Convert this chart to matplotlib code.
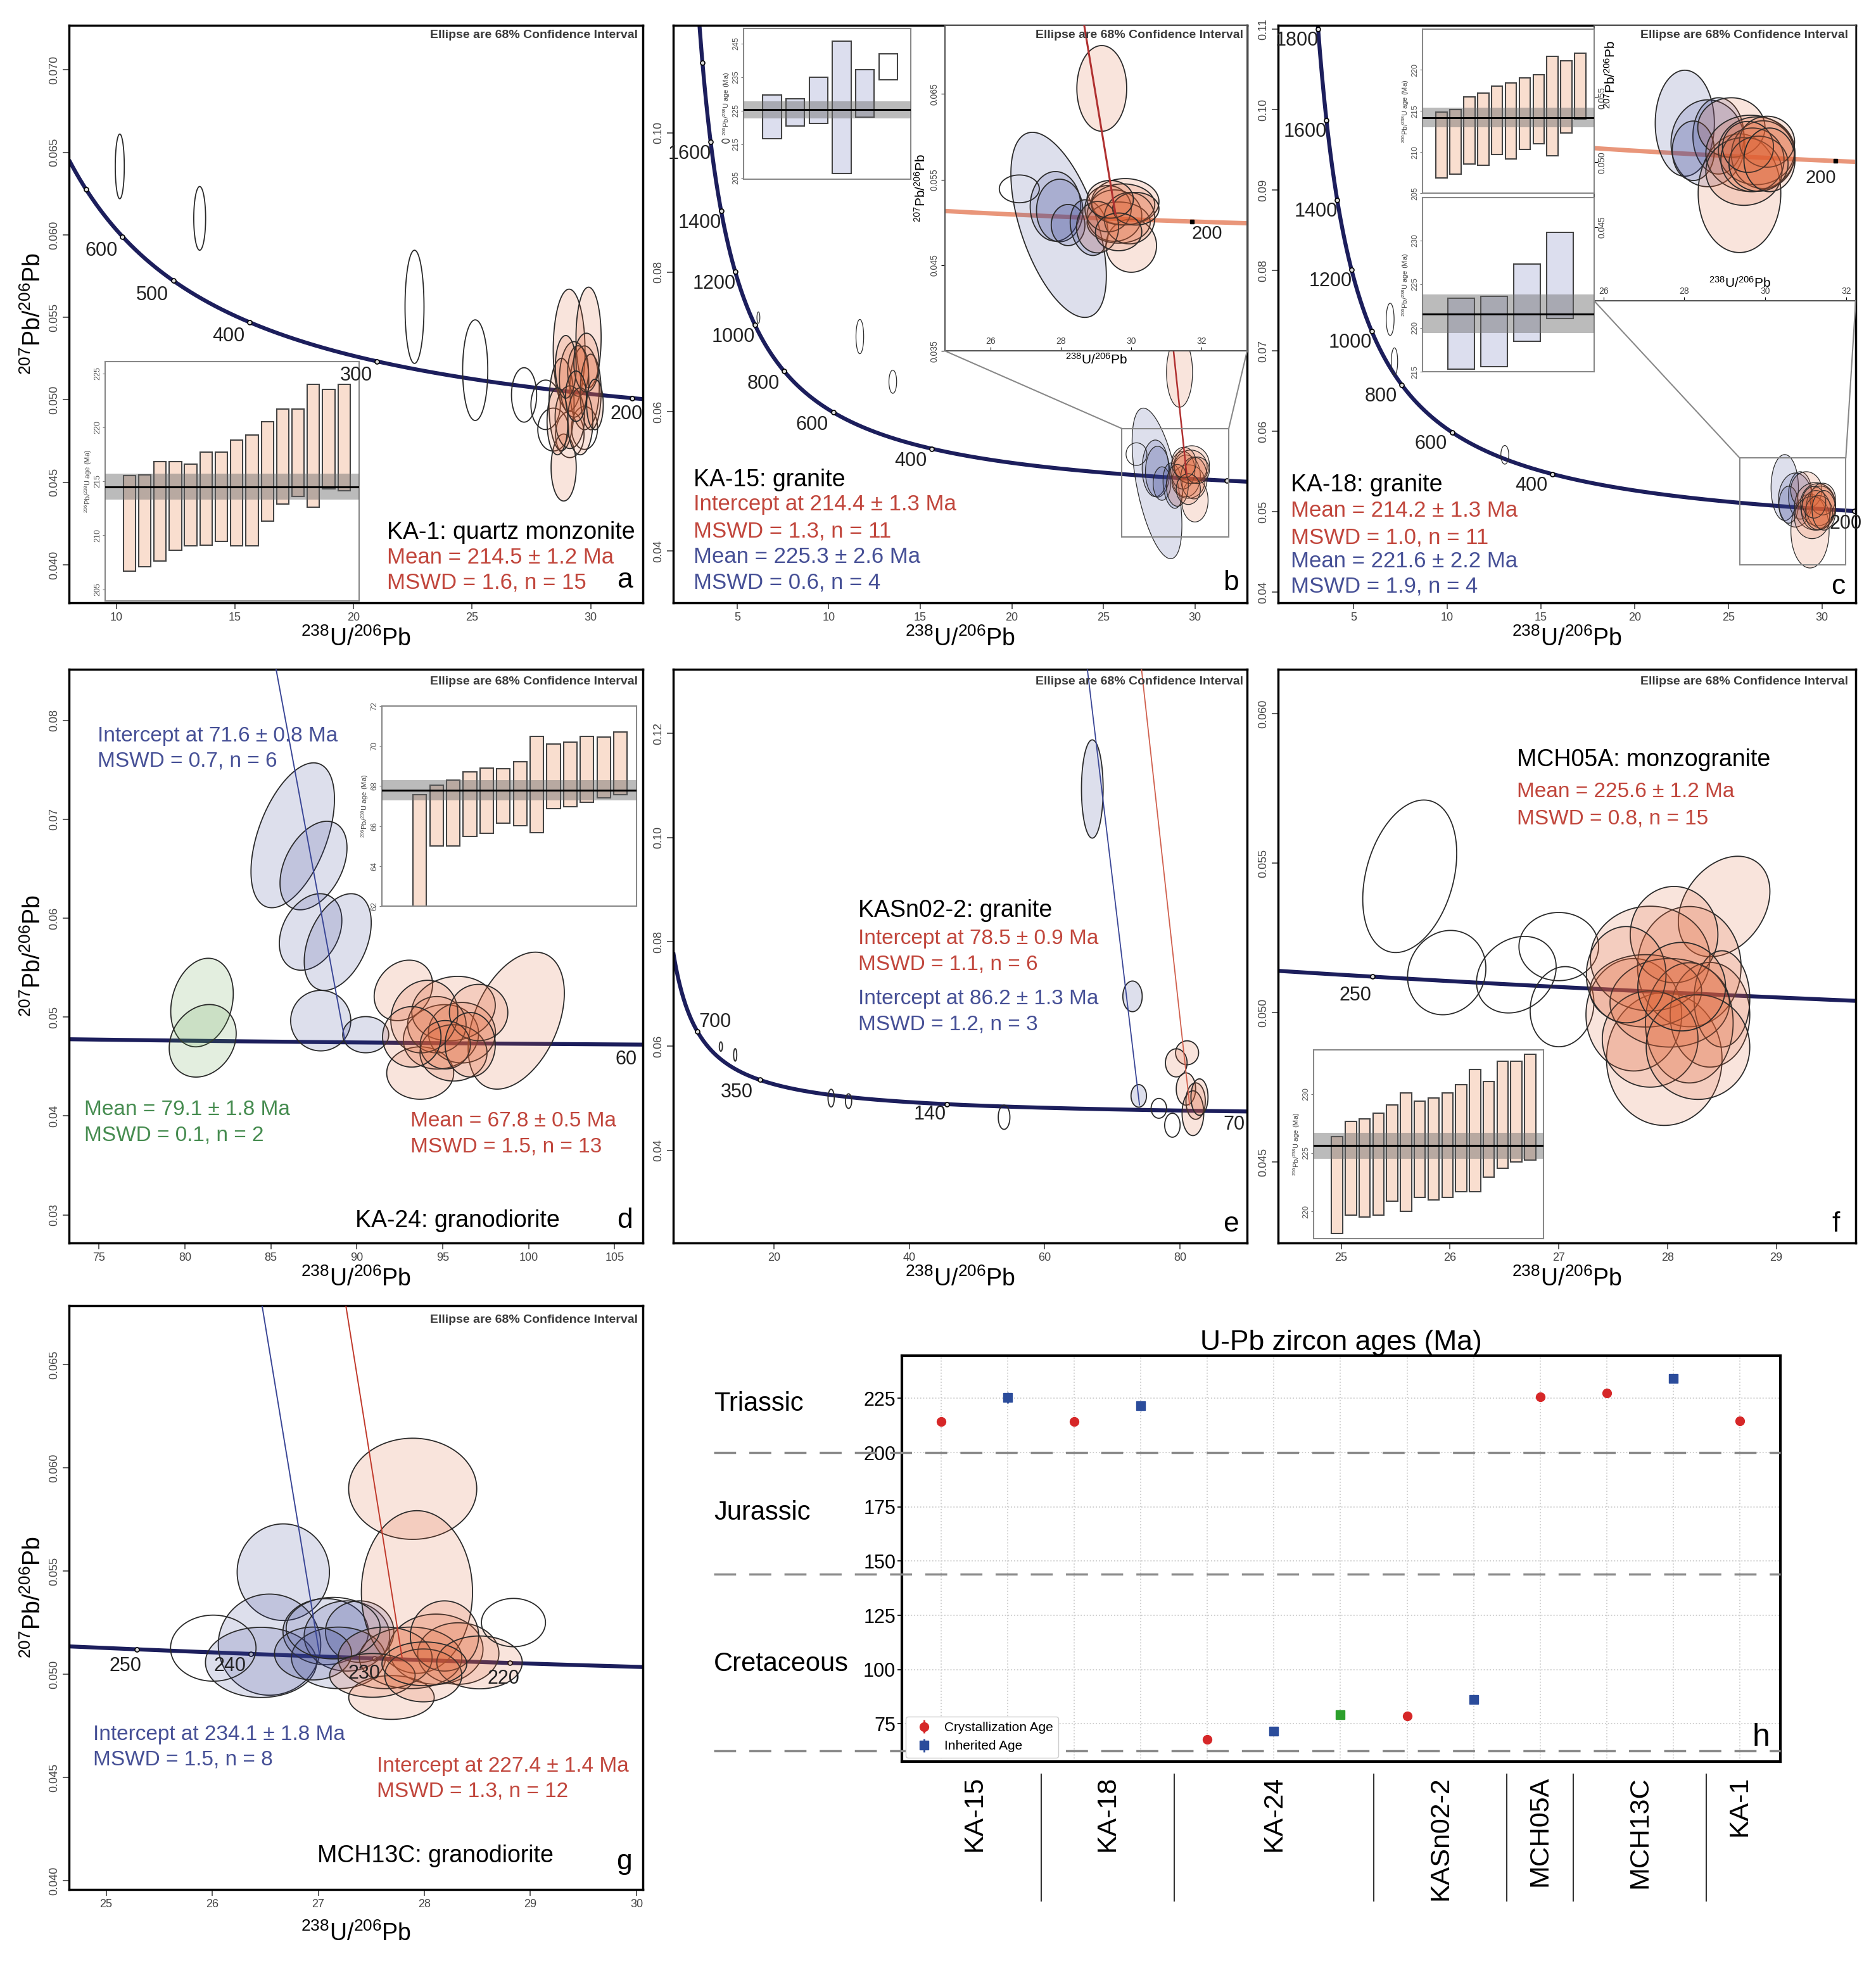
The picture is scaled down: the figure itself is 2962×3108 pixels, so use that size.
import numpy as np
import matplotlib
matplotlib.use("Agg")
import matplotlib.pyplot as plt
import matplotlib.transforms as mtransforms
from matplotlib.patches import Polygon, Rectangle, ConnectionPatch

plt.rcParams['font.family'] = ['Liberation Sans', 'DejaVu Sans']
plt.rcParams['mathtext.fontset'] = 'custom'
plt.rcParams['mathtext.rm'] = 'Liberation Sans'
plt.rcParams['mathtext.it'] = 'Liberation Sans:italic'
plt.rcParams['mathtext.bf'] = 'Liberation Sans:bold'
NARROW = ['Liberation Sans Narrow', 'Liberation Sans', 'DejaVu Sans']

W, H = 2962, 3108

# decay constants (1/yr) for the Tera-Wasserburg concordia
L238 = 1.55125e-10
L235 = 9.8485e-10
U85 = 137.88

# ---------------- data ----------------
# a: KA-1
a_x = [10.14, 13.51, 22.57, 25.13, 27.19, 28.1, 28.42, 29.12, 29.74,
       29.09, 29.91, 29.74, 28.86, 28.77, 29.3, 29.47, 29.12, 30.0, 29.56, 28.95, 29.82, 28.6, 29.38, 30.18]
a_y = [0.06415, 0.0610, 0.05564, 0.0518, 0.0503, 0.0497, 0.0482, 0.0479, 0.0483,
       0.05302, 0.05378, 0.05073, 0.0459, 0.04972, 0.05124, 0.05175, 0.04895, 0.05048, 0.0487, 0.052, 0.05226, 0.0487, 0.05022, 0.04972]
a_sx = [0.19, 0.25, 0.40, 0.53, 0.53, 0.62, 0.65, 0.6, 0.55,
        0.67, 0.53, 0.62, 0.53, 0.53, 0.62, 0.44, 0.62, 0.44, 0.53, 0.44, 0.53, 0.44, 0.44, 0.35]
a_sy = [0.00196, 0.00193, 0.00343, 0.00305, 0.00165, 0.0015, 0.0013, 0.0014, 0.0013,
        0.00369, 0.00305, 0.00254, 0.00203, 0.0028, 0.00229, 0.00153, 0.0019, 0.00229, 0.00203, 0.0019, 0.00178, 0.00203, 0.00153, 0.00153]
a_rho = [0] * 24
a_grp = 'ooooooooo' + 'rrrrrrrrrrrrrrr'
a_hist_top = [215.5, 215.6, 216.8, 216.8, 216.6, 217.7, 217.7, 218.8, 219.3, 220.5, 221.7, 221.7, 224.0, 223.5, 224.0]
a_hist_bot = [206.7, 207.1, 207.6, 208.6, 209.0, 209.1, 209.4, 209.0, 209.0, 211.3, 212.9, 213.6, 212.6, 214.3, 214.1]
a_mean, a_band = 214.5, 1.2
a_marked = [700, 600, 500, 400, 300, 200]
a_labelled = [600, 500, 400, 300, 200]

# b: KA-15
b_x = [27.93, 27.84, 27.96, 28.2, 28.8,
       29.16, 30.0, 29.83, 29.52, 29.64, 29.34, 29.77, 29.95, 29.04, 30.13, 29.4, 29.64,
       26.81, 11.70, 13.5, 4.37, 6.16]
b_y = [0.04972, 0.05188, 0.0514, 0.0497, 0.0494,
       0.06564, 0.04729, 0.05242, 0.0508, 0.04999, 0.05161, 0.0521, 0.0505, 0.04945, 0.0516, 0.0527, 0.0489,
       0.05392, 0.07077, 0.0643, 0.0988, 0.0735]
b_sx = [1.36, 0.72, 0.66, 0.48, 0.54,
        0.71, 0.72, 0.96, 0.78, 0.9, 0.66, 0.9, 0.72, 0.6, 0.66, 0.66, 0.66,
        0.57, 0.21, 0.21, 0.2, 0.08]
b_sy = [0.0108, 0.00406, 0.00365, 0.0024, 0.00325,
        0.0050, 0.0031, 0.0027, 0.003, 0.0024, 0.0027, 0.0024, 0.003, 0.003, 0.0019, 0.0022, 0.0022,
        0.00162, 0.00246, 0.00166, 0.0003, 0.0008]
b_rho = [-0.55, 0, 0, 0, -0.2] + [0] * 12 + [0] * 5
b_grp = 'bbbbb' + 'rrrrrrrrrrrr' + 'ooooo'
b_red_line_x = [29.55, 28.0]
b_red_line_y = [0.0510, 0.0893]
b_hist_top = [229.7, 228.6, 235.0, 245.75, 237.2, 242.0]
b_hist_bot = [216.7, 220.4, 221.25, 206.25, 223.1, 234.2]
b_hist_open = [False, False, False, False, False, True]
b_mean, b_band = 225.3, 2.6
b_marked = [1800, 1600, 1400, 1200, 1000, 800, 600, 400, 200]
b_labelled = [1600, 1400, 1200, 1000, 800, 600, 400]

# c: KA-18
c_x = [28.01, 28.58, 28.84, 28.22,
       29.36, 29.16, 29.63, 29.78, 29.94, 29.47, 30.04, 29.68, 29.83, 29.57, 30.1,
       6.95, 7.18, 13.07]
c_y = [0.05303, 0.05148, 0.05205, 0.0509,
       0.04762, 0.0527, 0.0507, 0.0509, 0.0506, 0.0493, 0.0516, 0.0502, 0.0499, 0.0512, 0.0502,
       0.07395, 0.0687, 0.0571]
c_sx = [0.73, 0.91, 0.63, 0.52,
        1.02, 0.83, 1.1, 0.94, 0.78, 0.94, 0.68, 0.78, 0.73, 0.63, 0.63,
        0.21, 0.17, 0.21]
c_sy = [0.0041, 0.00336, 0.00295, 0.0023,
        0.00459, 0.0023, 0.00295, 0.00262, 0.00262, 0.00262, 0.00197, 0.00246, 0.00213, 0.00197, 0.00246,
        0.002, 0.0017, 0.00116]
c_rho = [0] * 18
c_grp = 'bbbb' + 'rrrrrrrrrrr' + 'ooo'
c_hist1_top = [214.9, 215.2, 216.7, 217.2, 218.0, 218.4, 219.0, 219.4, 221.6, 221.1, 222.0]
c_hist1_bot = [206.9, 207.3, 208.6, 208.4, 209.7, 209.2, 210.3, 211.0, 209.6, 212.3, 214.0]
c_mean1, c_band1 = 214.2, 1.2
c_hist2_top = [223.4, 223.6, 227.3, 230.9]
c_hist2_bot = [215.3, 215.6, 218.5, 221.1]
c_mean2, c_band2 = 221.6, 2.2
c_marked = [1800, 1600, 1400, 1200, 1000, 800, 600, 400, 200]
c_labelled = [1800, 1600, 1400, 1200, 1000, 800, 600, 400, 200]

# d: KA-24
d_x = [86.27, 87.48, 87.31, 88.89, 87.9, 90.52,
       80.99, 81.03,
       99.28, 92.71, 93.69, 94.9, 95.63, 96.12, 94.66, 95.63, 93.93, 97.09, 95.15, 93.2, 96.6]
d_y = [0.06839, 0.06533, 0.05861, 0.05759, 0.04964, 0.04822,
       0.05147, 0.0476,
       0.04964, 0.0527, 0.04434, 0.048, 0.05086, 0.04842, 0.04923, 0.04638, 0.05005, 0.05046, 0.0472, 0.048, 0.0472]
d_sx = [2.43, 1.95, 1.82, 1.95, 1.75, 1.34,
        1.82, 1.95,
        2.8, 1.7, 1.95, 2.19, 2.43, 1.95, 1.7, 1.95, 1.95, 1.7, 1.46, 1.7, 1.46]
d_sy = [0.00733, 0.00448, 0.00387, 0.00489, 0.00306, 0.00183,
        0.00448, 0.00367,
        0.00693, 0.00306, 0.00265, 0.00326, 0.00326, 0.00306, 0.00285, 0.00285, 0.00367, 0.00285, 0.00245, 0.00306, 0.00326]
d_rho = [0.5, 0.4, 0.3, 0.4, 0, 0,
         0.2, 0.2,
         0.4, 0.2, 0, 0.1, 0.1, 0, 0, 0, 0.1, 0, 0, 0, 0]
d_grp = 'bbbbbb' + 'gg' + 'rrrrrrrrrrrrr'
d_blue_line_x = [89.3, 85.3]
d_blue_line_y = [0.0477, 0.0852]
d_hist_top = [67.58, 68.06, 68.31, 68.71, 68.91, 68.87, 69.21, 70.47, 70.11, 70.21, 70.47, 70.45, 70.71]
d_hist_bot = [61.8, 65.0, 65.0, 65.47, 65.63, 66.16, 66.02, 65.69, 66.88, 66.98, 67.18, 67.42, 67.58]
d_mean, d_band = 67.8, 0.5
d_labelled = [60]

# e: KASn02-2
e_x = [67.03, 72.97, 73.89,
       81.03, 79.43, 80.86, 82.29, 81.89, 82.86,
       76.86, 78.86, 54.0, 28.46, 31.03, 12.17, 14.29]
e_y = [0.10933, 0.06953, 0.05043,
       0.0587, 0.05677, 0.05175, 0.04943, 0.04711, 0.0502,
       0.04804, 0.0448, 0.04633, 0.05, 0.04943, 0.0599, 0.0583]
e_sx = [1.6, 1.43, 1.14,
        1.7, 1.6, 1.43, 1.43, 1.6, 1.26,
        1.14, 1.14, 0.86, 0.46, 0.46, 0.23, 0.23]
e_sy = [0.00943, 0.00294, 0.00216,
        0.0023, 0.0027, 0.0031, 0.0035, 0.0043, 0.0035,
        0.0019, 0.0023, 0.00232, 0.0017, 0.0014, 0.0009, 0.0012]
e_rho = [0] * 16
e_grp = 'bbb' + 'rrrrrr' + 'ooooooo'
e_red_line_x = [81.4, 74.3]
e_red_line_y = [0.0487, 0.1323]
e_blue_line_x = [74.0, 66.3]
e_blue_line_y = [0.0487, 0.1323]
e_marked = [700, 350, 140]
e_labelled = [700, 350, 140, 70]

# f: MCH05A
f_x = [25.63, 25.97, 26.61, 27.0, 27.03,
       28.52, 27.97, 27.69, 28.2, 27.84, 28.06, 28.39, 28.5, 27.8, 28.02, 28.2, 27.84, 28.28, 27.62, 28.13]
f_y = [0.05456, 0.05134, 0.05127, 0.05221, 0.0502,
       0.05355, 0.04845, 0.04993, 0.05154, 0.05181, 0.05261, 0.04993, 0.05046, 0.05073, 0.05033, 0.04966, 0.04912, 0.04885, 0.05127, 0.05087]
f_sx = [0.432, 0.36, 0.366, 0.366, 0.293,
        0.421, 0.531, 0.44, 0.476, 0.549, 0.403, 0.366, 0.256, 0.513, 0.549, 0.403, 0.44, 0.476, 0.366, 0.403]
f_sy = [0.00255, 0.00141, 0.00128, 0.00114, 0.00134,
        0.00168, 0.00222, 0.00188, 0.00201, 0.00175, 0.00161, 0.00175, 0.00161, 0.00121, 0.00148, 0.00201, 0.00161, 0.00175, 0.00161, 0.00148]
f_rho = [0.3, 0.1, 0.2, 0, 0.1,
         0.3, 0, 0, 0, 0, 0, 0, 0, 0, 0, 0, 0, 0, 0, 0]
f_grp = 'ooooo' + 'rrrrrrrrrrrrrrr'
f_hist_top = [226.4, 227.7, 227.9, 228.4, 229.1, 230.1, 229.4, 229.7, 230.1, 230.8, 232.1, 231.1, 232.8, 232.8, 233.4]
f_hist_bot = [218.1, 219.7, 219.5, 219.7, 220.9, 220.0, 221.2, 221.0, 221.2, 221.7, 221.7, 222.9, 223.7, 224.2, 224.4]
f_mean, f_band = 225.6, 1.1
f_labelled = [250]

# g: MCH13C
g_x = [26.67, 26.54, 26.46, 27.07, 27.27, 27.39, 27.19, 26.95,
       27.89, 27.93, 27.69, 28.11, 28.32, 27.87, 27.63, 28.19, 28.52, 27.51, 27.99, 28.0,
       26.01, 28.84, 27.14]
g_y = [0.05494, 0.05143, 0.05057, 0.05206, 0.05185, 0.05206, 0.05079, 0.051,
       0.05898, 0.05398, 0.04887, 0.05121, 0.051, 0.05079, 0.05079, 0.05185, 0.05057, 0.04994, 0.04994, 0.0505,
       0.05126, 0.0525, 0.05223]
g_sx = [0.435, 0.483, 0.524, 0.403, 0.403, 0.322, 0.443, 0.363,
        0.604, 0.524, 0.403, 0.443, 0.383, 0.483, 0.443, 0.322, 0.403, 0.403, 0.363, 0.4,
        0.403, 0.302, 0.443]
g_sy = [0.00234, 0.00245, 0.0017, 0.0016, 0.0017, 0.00149, 0.00149, 0.00128,
        0.00245, 0.00394, 0.00106, 0.0017, 0.00149, 0.00149, 0.00149, 0.0017, 0.00128, 0.00106, 0.00128, 0.00106,
        0.0016, 0.00117, 0.00149]
g_rho = [0] * 23
g_grp = 'bbbbbbbb' + 'rrrrrrrrrrrr' + 'ooo'
g_blue_line_x = [27.01, 26.47]
g_blue_line_y = [0.0510, 0.06785]
g_red_line_x = [27.79, 27.26]
g_red_line_y = [0.0508, 0.06785]
g_labelled = [250, 240, 230, 220]

# h: summary of ages
h_age = [214.4, 225.3, 214.2, 221.6, 67.8, 71.6, 79.1, 78.5, 86.2, 225.6, 227.4, 234.1, 214.5]
h_err = [1.3, 2.6, 1.3, 2.2, 0.5, 0.8, 1.8, 0.9, 1.3, 1.2, 1.4, 1.8, 1.2]
h_kind = ['c', 'i', 'c', 'i', 'c', 'i', 'g', 'c', 'i', 'c', 'c', 'i', 'c']
h_samples = ['KA-15', 'KA-18', 'KA-24', 'KASn02-2', 'MCH05A', 'MCH13C', 'KA-1']
h_sample_pos = [0.5, 2.5, 5.0, 7.5, 9.0, 10.5, 12.0]
h_separators = [1.5, 3.5, 6.5, 8.5, 9.5, 11.5]
h_bounds = [200.0, 144.0, 62.5]
h_periods = ['Triassic', 'Jurassic', 'Cretaceous']
h_yticks = [75, 100, 125, 150, 175, 200, 225]

# ---------------- style ----------------
RED_T = '#c1463c'
BLUE_T = '#465096'
GREEN_T = '#468c50'
NAVY = '#1c1e5c'
SALMON = '#e9967a'
FILL = {'r': (0.88, 0.38, 0.20), 'b': (0.22, 0.26, 0.58), 'g': (0.35, 0.62, 0.28)}
FILL_ALPHA = 0.17
HIST_FILL = {'r': '#f9decf', 'b': '#dcdeee'}
XLAB = r'$^{238}$U/$^{206}$Pb'
YLAB = r'$^{207}$Pb/$^{206}$Pb'
HLAB = r'$^{206}$Pb/$^{238}$U age (Ma)'
NOTE = 'Ellipse are 68% Confidence Interval'

fig = plt.figure(figsize=(W / 100, H / 100), dpi=100)


def box(l, t, r, b):
    return [l / W, 1 - b / H, (r - l) / W, (b - t) / H]


def tw_point(t_ma):
    e8 = np.expm1(L238 * np.asarray(t_ma) * 1e6)
    e5 = np.expm1(L235 * np.asarray(t_ma) * 1e6)
    return 1.0 / e8, e5 / e8 / U85


def concordia(ax, xlim, color, lw, marked, labelled, offsets, msty='o', fs=22):
    xs = np.linspace(max(xlim[0], 0.3), xlim[1] + 2, 900)
    t = np.log1p(1.0 / xs) / L238 / 1e6
    _, ys = tw_point(t)
    ax.plot(xs, ys, color=color, lw=lw, zorder=2, solid_capstyle='butt')
    for age in marked:
        px, py = tw_point(age)
        if msty == 'o':
            ax.plot(px, py, marker='o', ms=5, mfc='#dddddd', mec='black', mew=1.2, zorder=2.5)
        else:
            ax.plot(px, py, marker='s', ms=5, mfc='black', mec='black', zorder=2.5)
    for age, off in zip(labelled, offsets):
        px, py = tw_point(age)
        ax.annotate(str(age), (px, py), xytext=off, textcoords='offset points',
                    ha='center', va='center', fontsize=fs, color='#222222',
                    annotation_clip=False, zorder=6)


def ellipses(ax, xs, ys, sxs, sys_, rhos, grp, lw=1.3):
    th = np.linspace(0, 2 * np.pi, 120)
    for x, y, sx, sy, r, g in zip(xs, ys, sxs, sys_, rhos, grp):
        ex = x + sx * np.cos(th)
        ey = y + sy * (r * np.cos(th) + np.sqrt(1 - r * r) * np.sin(th))
        fc = 'none' if g == 'o' else FILL[g] + (FILL_ALPHA,)
        ax.add_patch(Polygon(np.column_stack([ex, ey]), closed=True, facecolor=fc,
                             edgecolor='#2a2a2a', lw=lw, zorder=3))


def main_axes(rect, xlim, ylim, xticks, yticks, ylabels, ylab=True, xpad=5):
    ax = fig.add_axes(rect)
    ax.set_xlim(xlim)
    ax.set_ylim(ylim)
    ax.set_xticks(xticks)
    ax.set_xticklabels([str(v) for v in xticks])
    ax.set_yticks(yticks)
    ax.set_yticklabels(ylabels, rotation=90, va='center')
    ax.tick_params(labelsize=13, labelcolor='#444444', length=7, width=1.2, color='#444444')
    for s in ax.spines.values():
        s.set_linewidth(2.5)
        s.set_color('black')
    ax.set_xlabel(XLAB, fontsize=27, labelpad=xpad)
    if ylab:
        ax.set_ylabel(YLAB, fontsize=27, labelpad=4)
    return ax


def txt(ax, x, y, s, color='black', size=24, ha='left'):
    ax.text(x, y, s, transform=ax.transAxes, color=color, fontsize=size, ha=ha, va='center', zorder=7)


def note(ax, x, y):
    fig.text(x, y, NOTE, transform=ax.transAxes, ha='right', va='center',
             fontsize=14, fontweight='bold', color='#3a3a3a')


def hist_inset(ax, rect, tops, bots, mean, band, fill, xlim, ylim, yticks, open_flags=None):
    ins = ax.inset_axes(rect)
    pos = np.arange(1, len(tops) + 1)
    for i, (tp, bt) in enumerate(zip(tops, bots)):
        fc = 'white' if (open_flags and open_flags[i]) else HIST_FILL[fill]
        ins.bar(pos[i], tp - bt, bottom=bt, width=0.8, color=fc, edgecolor='#444444', lw=1.5, zorder=2)
    ins.axhspan(mean - band, mean + band, color='#6a6a6a', alpha=0.45, lw=0, zorder=3)
    ins.axhline(mean, color='black', lw=2.2, zorder=4)
    ins.set_xlim(xlim)
    ins.set_ylim(ylim)
    ins.set_xticks([])
    ins.set_yticks(yticks)
    ins.set_yticklabels([str(v) for v in yticks], rotation=90, va='center', fontsize=9, color='#555555')
    ins.tick_params(axis='y', length=3, pad=1, color='#777777')
    ins.set_ylabel(HLAB, fontsize=8, labelpad=1, color='#444444')
    for s in ins.spines.values():
        s.set_linewidth(1.5)
        s.set_color('#888888')
    return ins


def fmt(vals, nd):
    return [('%.' + str(nd) + 'f') % v for v in vals]


# ---------------- panel a ----------------
yt = [0.040, 0.045, 0.050, 0.055, 0.060, 0.065, 0.070]
ax = main_axes(box(109, 40, 1015, 952), (8.0, 32.2), (0.0377, 0.0727), [10, 15, 20, 25, 30], yt, fmt(yt, 3))
concordia(ax, (8.0, 32.2), NAVY, 4.5, a_marked, a_labelled,
          [(-24, -16), (-24, -16), (-24, -16), (-24, -16), (-6, -18)])
ellipses(ax, a_x, a_y, a_sx, a_sy, a_rho, a_grp)
hist_inset(ax, [0.063, 0.003, 0.443, 0.415], a_hist_top, a_hist_bot, a_mean, a_band, 'r',
           (-0.58, 16.0), (203.9, 226.1), [205, 210, 215, 220, 225])
txt(ax, 0.554, 0.122, 'KA-1: quartz monzonite', size=27)
txt(ax, 0.554, 0.078, 'Mean = 214.5 ± 1.2 Ma', RED_T, 25)
txt(ax, 0.554, 0.035, 'MSWD = 1.6, n = 15', RED_T, 25)
txt(ax, 0.969, 0.039, 'a', size=32, ha='center')
note(ax, 0.991, 0.983)

# ---------------- panel b ----------------
yt = [0.04, 0.06, 0.08, 0.10]
ax = main_axes(box(1063, 40, 1969, 952), (1.51, 32.85), (0.0326, 0.1154), [5, 10, 15, 20, 25, 30], yt, fmt(yt, 2), ylab=False)
concordia(ax, (1.51, 32.85), NAVY, 4.5, b_marked, b_labelled, [(-24, -14)] * 7)
ellipses(ax, b_x, b_y, b_sx, b_sy, b_rho, b_grp, lw=0.9)
ax.plot(b_red_line_x, b_red_line_y, color='#b03030', lw=1.8, zorder=4)
ax.add_patch(Rectangle((26.0, 0.042), 5.85, 0.0156, fill=False, ec='#888888', lw=1.5, zorder=4))
ins = ax.inset_axes([0.474, 0.436, 0.526, 0.564])
ins.set_xlim(24.7, 33.3)
ins.set_ylim(0.035, 0.073)
concordia(ins, (24.7, 33.3), SALMON, 5, [200], [200], [(17, -14)], msty='s', fs=21)
ellipses(ins, b_x, b_y, b_sx, b_sy, b_rho, b_grp)
ins.plot(b_red_line_x, b_red_line_y, color='#b03030', lw=2.2, zorder=4)
ins.set_xticks([26, 28, 30, 32])
ins.set_yticks([0.035, 0.045, 0.055, 0.065])
ins.set_yticklabels(fmt([0.035, 0.045, 0.055, 0.065], 3), rotation=90, va='center')
ins.tick_params(axis='x', direction='in', pad=-16, labelsize=10, length=4, labelcolor='#444444')
ins.tick_params(axis='y', labelsize=10, length=4, labelcolor='#444444')
ins.set_xlabel(XLAB, fontsize=15, labelpad=2)
ins.set_ylabel(YLAB, fontsize=15, labelpad=2)
for s in ins.spines.values():
    s.set_linewidth(1.5)
    s.set_color('#555555')
for xa, xb in [((26.0, 0.0576), (0, 0)), ((31.85, 0.0576), (1, 0))]:
    fig.add_artist(ConnectionPatch(xyA=xa, coordsA=ax.transData, xyB=xb, coordsB=ins.transAxes,
                                   color='#888888', lw=1.5))
hist_inset(ax, [0.1225, 0.734, 0.291, 0.26], b_hist_top, b_hist_bot, b_mean, b_band, 'b',
           (-0.23, 6.96), (204.7, 249.4), [205, 215, 225, 235, 245], b_hist_open)
txt(ax, 0.035, 0.213, 'KA-15: granite', size=27)
txt(ax, 0.035, 0.170, 'Intercept at 214.4 ± 1.3 Ma', RED_T, 25)
txt(ax, 0.035, 0.124, 'MSWD = 1.3, n = 11', RED_T, 25)
txt(ax, 0.035, 0.080, 'Mean = 225.3 ± 2.6 Ma', BLUE_T, 25)
txt(ax, 0.035, 0.035, 'MSWD = 0.6, n = 4', BLUE_T, 25)
txt(ax, 0.972, 0.035, 'b', size=32, ha='center')
note(ax, 0.993, 0.983)

# ---------------- panel c ----------------
yt = [0.04, 0.05, 0.06, 0.07, 0.08, 0.09, 0.10, 0.11]
ax = main_axes(box(2018, 40, 2930, 952), (0.97, 31.8), (0.0387, 0.1105), [5, 10, 15, 20, 25, 30], yt, fmt(yt, 2), ylab=False)
concordia(ax, (0.97, 31.8), NAVY, 4.5, c_marked, c_labelled, [(-24, -13)] * 8 + [(-10, -14)])
ellipses(ax, c_x, c_y, c_sx, c_sy, c_rho, c_grp, lw=0.9)
ax.add_patch(Rectangle((25.61, 0.0434), 5.66, 0.0133, fill=False, ec='#888888', lw=1.5, zorder=4))
ins = ax.inset_axes([0.547, 0.523, 0.453, 0.477])
ins.set_xlim(25.77, 32.23)
ins.set_ylim(0.0393, 0.0606)
concordia(ins, (25.77, 32.23), SALMON, 5, [200], [200], [(-17, -19)], msty='s', fs=21)
ellipses(ins, c_x, c_y, c_sx, c_sy, c_rho, c_grp)
ins.set_xticks([26, 28, 30, 32])
ins.set_yticks([0.045, 0.050, 0.055])
ins.set_yticklabels(fmt([0.045, 0.050, 0.055], 3), rotation=90, va='center')
ins.tick_params(axis='x', direction='in', pad=-16, labelsize=10, length=4, labelcolor='#444444')
ins.tick_params(axis='y', direction='in', pad=-14, labelsize=10, length=4, labelcolor='#444444')
ins.set_xlabel(XLAB, fontsize=15)
ins.set_ylabel(YLAB, fontsize=15)
ins.xaxis.set_label_coords(0.556, 0.09)
ins.yaxis.set_label_coords(0.09, 0.82)
for s in ins.spines.values():
    s.set_linewidth(1.5)
    s.set_color('#555555')
for xa, xb in [((25.61, 0.0567), (0, 0)), ((31.27, 0.0567), (1, 0))]:
    fig.add_artist(ConnectionPatch(xyA=xa, coordsA=ax.transData, xyB=xb, coordsB=ins.transAxes,
                                   color='#888888', lw=1.5))
hist_inset(ax, [0.25, 0.709, 0.297, 0.284], c_hist1_top, c_hist1_bot, c_mean1, c_band1, 'r',
           (-0.38, 12.0), (205, 224.9), [205, 210, 215, 220])
hist_inset(ax, [0.25, 0.400, 0.297, 0.302], c_hist2_top, c_hist2_bot, c_mean2, c_band2, 'b',
           (-0.17, 5.03), (215, 234.9), [215, 220, 225, 230])
txt(ax, 0.022, 0.204, 'KA-18: granite', size=27)
txt(ax, 0.022, 0.159, 'Mean = 214.2 ± 1.3 Ma', RED_T, 25)
txt(ax, 0.022, 0.113, 'MSWD = 1.0, n = 11', RED_T, 25)
txt(ax, 0.022, 0.072, 'Mean = 221.6 ± 2.2 Ma', BLUE_T, 25)
txt(ax, 0.022, 0.028, 'MSWD = 1.9, n = 4', BLUE_T, 25)
txt(ax, 0.970, 0.028, 'c', size=32, ha='center')
note(ax, 0.987, 0.983)

# ---------------- panel d ----------------
yt = [0.03, 0.04, 0.05, 0.06, 0.07, 0.08]
ax = main_axes(box(109, 1057, 1015, 1963), (73.25, 106.65), (0.02715, 0.08518),
               [75, 80, 85, 90, 95, 100, 105], yt, fmt(yt, 2))
concordia(ax, (73.25, 106.65), NAVY, 4.5, [], d_labelled, [(-25, -17)])
ellipses(ax, d_x, d_y, d_sx, d_sy, d_rho, d_grp)
ax.plot(d_blue_line_x, d_blue_line_y, color='#3a4696', lw=1.4, zorder=4)
hist_inset(ax, [0.545, 0.587, 0.444, 0.349], d_hist_top, d_hist_bot, d_mean, d_band, 'r',
           (-1.27, 13.96), (62.0, 72.0), [62, 64, 66, 68, 70, 72])
txt(ax, 0.050, 0.884, 'Intercept at 71.6 ± 0.8 Ma', BLUE_T, 24)
txt(ax, 0.050, 0.840, 'MSWD = 0.7, n = 6', BLUE_T, 24)
txt(ax, 0.026, 0.232, 'Mean = 79.1 ± 1.8 Ma', GREEN_T, 24)
txt(ax, 0.026, 0.188, 'MSWD = 0.1, n = 2', GREEN_T, 24)
txt(ax, 0.595, 0.212, 'Mean = 67.8 ± 0.5 Ma', RED_T, 24)
txt(ax, 0.595, 0.168, 'MSWD = 1.5, n = 13', RED_T, 24)
txt(ax, 0.499, 0.039, 'KA-24: granodiorite', size=27)
txt(ax, 0.969, 0.039, 'd', size=32, ha='center')
note(ax, 0.991, 0.978)

# ---------------- panel e ----------------
yt = [0.04, 0.06, 0.08, 0.10, 0.12]
ax = main_axes(box(1063, 1057, 1969, 1963), (5.14, 89.89), (0.0222, 0.1323),
               [20, 40, 60, 80], yt, fmt(yt, 2), ylab=False)
concordia(ax, (5.14, 89.89), NAVY, 4.5, e_marked, e_labelled,
          [(20, 11), (-26, -14), (-19, -12), (-28, -15)])
ellipses(ax, e_x, e_y, e_sx, e_sy, e_rho, e_grp)
ax.plot(e_blue_line_x, e_blue_line_y, color='#3a4696', lw=1.3, zorder=4)
ax.plot(e_red_line_x, e_red_line_y, color='#d0604e', lw=1.3, zorder=4)
txt(ax, 0.322, 0.580, 'KASn02-2: granite', size=27)
txt(ax, 0.322, 0.530, 'Intercept at 78.5 ± 0.9 Ma', RED_T, 24)
txt(ax, 0.322, 0.486, 'MSWD = 1.1, n = 6', RED_T, 24)
txt(ax, 0.322, 0.425, 'Intercept at 86.2 ± 1.3 Ma', BLUE_T, 24)
txt(ax, 0.322, 0.381, 'MSWD = 1.2, n = 3', BLUE_T, 24)
txt(ax, 0.972, 0.033, 'e', size=32, ha='center')
note(ax, 0.993, 0.978)

# ---------------- panel f ----------------
yt = [0.045, 0.050, 0.055, 0.060]
ax = main_axes(box(2018, 1057, 2930, 1963), (24.42, 29.73), (0.0423, 0.06148),
               [25, 26, 27, 28, 29], yt, fmt(yt, 3), ylab=False)
concordia(ax, (24.42, 29.73), NAVY, 4.5, [250], f_labelled, [(-20, -21)])
ellipses(ax, f_x, f_y, f_sx, f_sy, f_rho, f_grp)
hist_inset(ax, [0.061, 0.008, 0.398, 0.329], f_hist_top, f_hist_bot, f_mean, f_band, 'r',
           (-0.72, 15.95), (217.7, 233.8), [220, 225, 230])
txt(ax, 0.413, 0.842, 'MCH05A: monzogranite', size=27)
txt(ax, 0.413, 0.786, 'Mean = 225.6 ± 1.2 Ma', RED_T, 24)
txt(ax, 0.413, 0.740, 'MSWD = 0.8, n = 15', RED_T, 24)
txt(ax, 0.965, 0.033, 'f', size=32, ha='center')
note(ax, 0.987, 0.978)

# ---------------- panel g ----------------
yt = [0.040, 0.045, 0.050, 0.055, 0.060, 0.065]
ax = main_axes(box(109, 2062, 1015, 2984), (24.65, 30.06), (0.03957, 0.06785),
               [25, 26, 27, 28, 29, 30], yt, fmt(yt, 3), xpad=14)
concordia(ax, (24.65, 30.06), NAVY, 4.5, [250, 240, 230, 220], g_labelled,
          [(-13, -19), (-24, -14), (-12, -17), (-7, -18)])
ellipses(ax, g_x, g_y, g_sx, g_sy, g_rho, g_grp)
ax.plot(g_blue_line_x, g_blue_line_y, color='#3a4696', lw=1.4, zorder=4)
ax.plot(g_red_line_x, g_red_line_y, color='#c0392b', lw=1.4, zorder=4)
txt(ax, 0.042, 0.265, 'Intercept at 234.1 ± 1.8 Ma', BLUE_T, 24)
txt(ax, 0.042, 0.222, 'MSWD = 1.5, n = 8', BLUE_T, 24)
txt(ax, 0.536, 0.211, 'Intercept at 227.4 ± 1.4 Ma', RED_T, 24)
txt(ax, 0.536, 0.168, 'MSWD = 1.3, n = 12', RED_T, 24)
txt(ax, 0.433, 0.058, 'MCH13C: granodiorite', size=27)
txt(ax, 0.967, 0.047, 'g', size=32, ha='center')
note(ax, 0.991, 0.976)

# ---------------- panel h ----------------
ax = fig.add_axes(box(1424, 2141, 2811, 2782))
pos = np.arange(len(h_age))
ages = np.array(h_age)
errs = np.array(h_err)
for kind, color, mk, lab in [('c', '#d62728', 'o', 'Crystallization Age'),
                             ('i', '#2b4c9b', 's', 'Inherited Age'),
                             ('g', '#2ca02c', 's', None)]:
    idx = [i for i, k in enumerate(h_kind) if k == kind]
    ax.errorbar(pos[idx], ages[idx], yerr=errs[idx], fmt=mk, color=color, ms=10,
                elinewidth=2, capsize=0, label=lab, zorder=5)
ax.set_xlim(-0.59, 12.61)
ax.set_ylim(57.6, 244.7)
ax.set_xticks(pos)
ax.set_yticks(h_yticks)
ax.set_yticklabels([str(v) for v in h_yticks], fontsize=22, family=NARROW)
ax.tick_params(axis='x', length=0, labelbottom=False)
ax.tick_params(axis='y', length=5, width=1.2, pad=2)
ax.grid(True, color='#cccccc', linestyle=':', lw=1.3)
for s in ax.spines.values():
    s.set_linewidth(3)
    s.set_color('black')
tr_y = mtransforms.blended_transform_factory(ax.transAxes, ax.transData)
tr_x = mtransforms.blended_transform_factory(ax.transData, ax.transAxes)
for b in h_bounds:
    ax.plot([-0.214, 1.0], [b, b], transform=tr_y, ls=(0, (10, 6)), color='#8a8a8a',
            lw=2.5, clip_on=False, zorder=3)
for name, yv in zip(h_periods, [222.5, 172.3, 102.5]):
    ax.text(-0.214, yv, name, transform=tr_y, fontsize=30, family=NARROW, ha='left', va='center')
for name, p in zip(h_samples, h_sample_pos):
    ax.text(p, -0.036, name, transform=tr_x, rotation=90, ha='center', va='top', fontsize=31)
for p in h_separators:
    ax.plot([p, p], [-0.031, -0.343], transform=tr_x, color='#333333', lw=1.5, clip_on=False)
ax.set_title('U-Pb zircon ages (Ma)', fontsize=32, family=NARROW, pad=6)
leg = ax.legend(loc='lower left', prop={'family': NARROW, 'size': 15}, frameon=True,
                framealpha=1, edgecolor='#cccccc', borderaxespad=0.3, handletextpad=0.5)
ax.text(0.978, 0.059, 'h', transform=ax.transAxes, fontsize=36, family=NARROW, ha='center', va='center')

fig.savefig('out.png', dpi=100)
